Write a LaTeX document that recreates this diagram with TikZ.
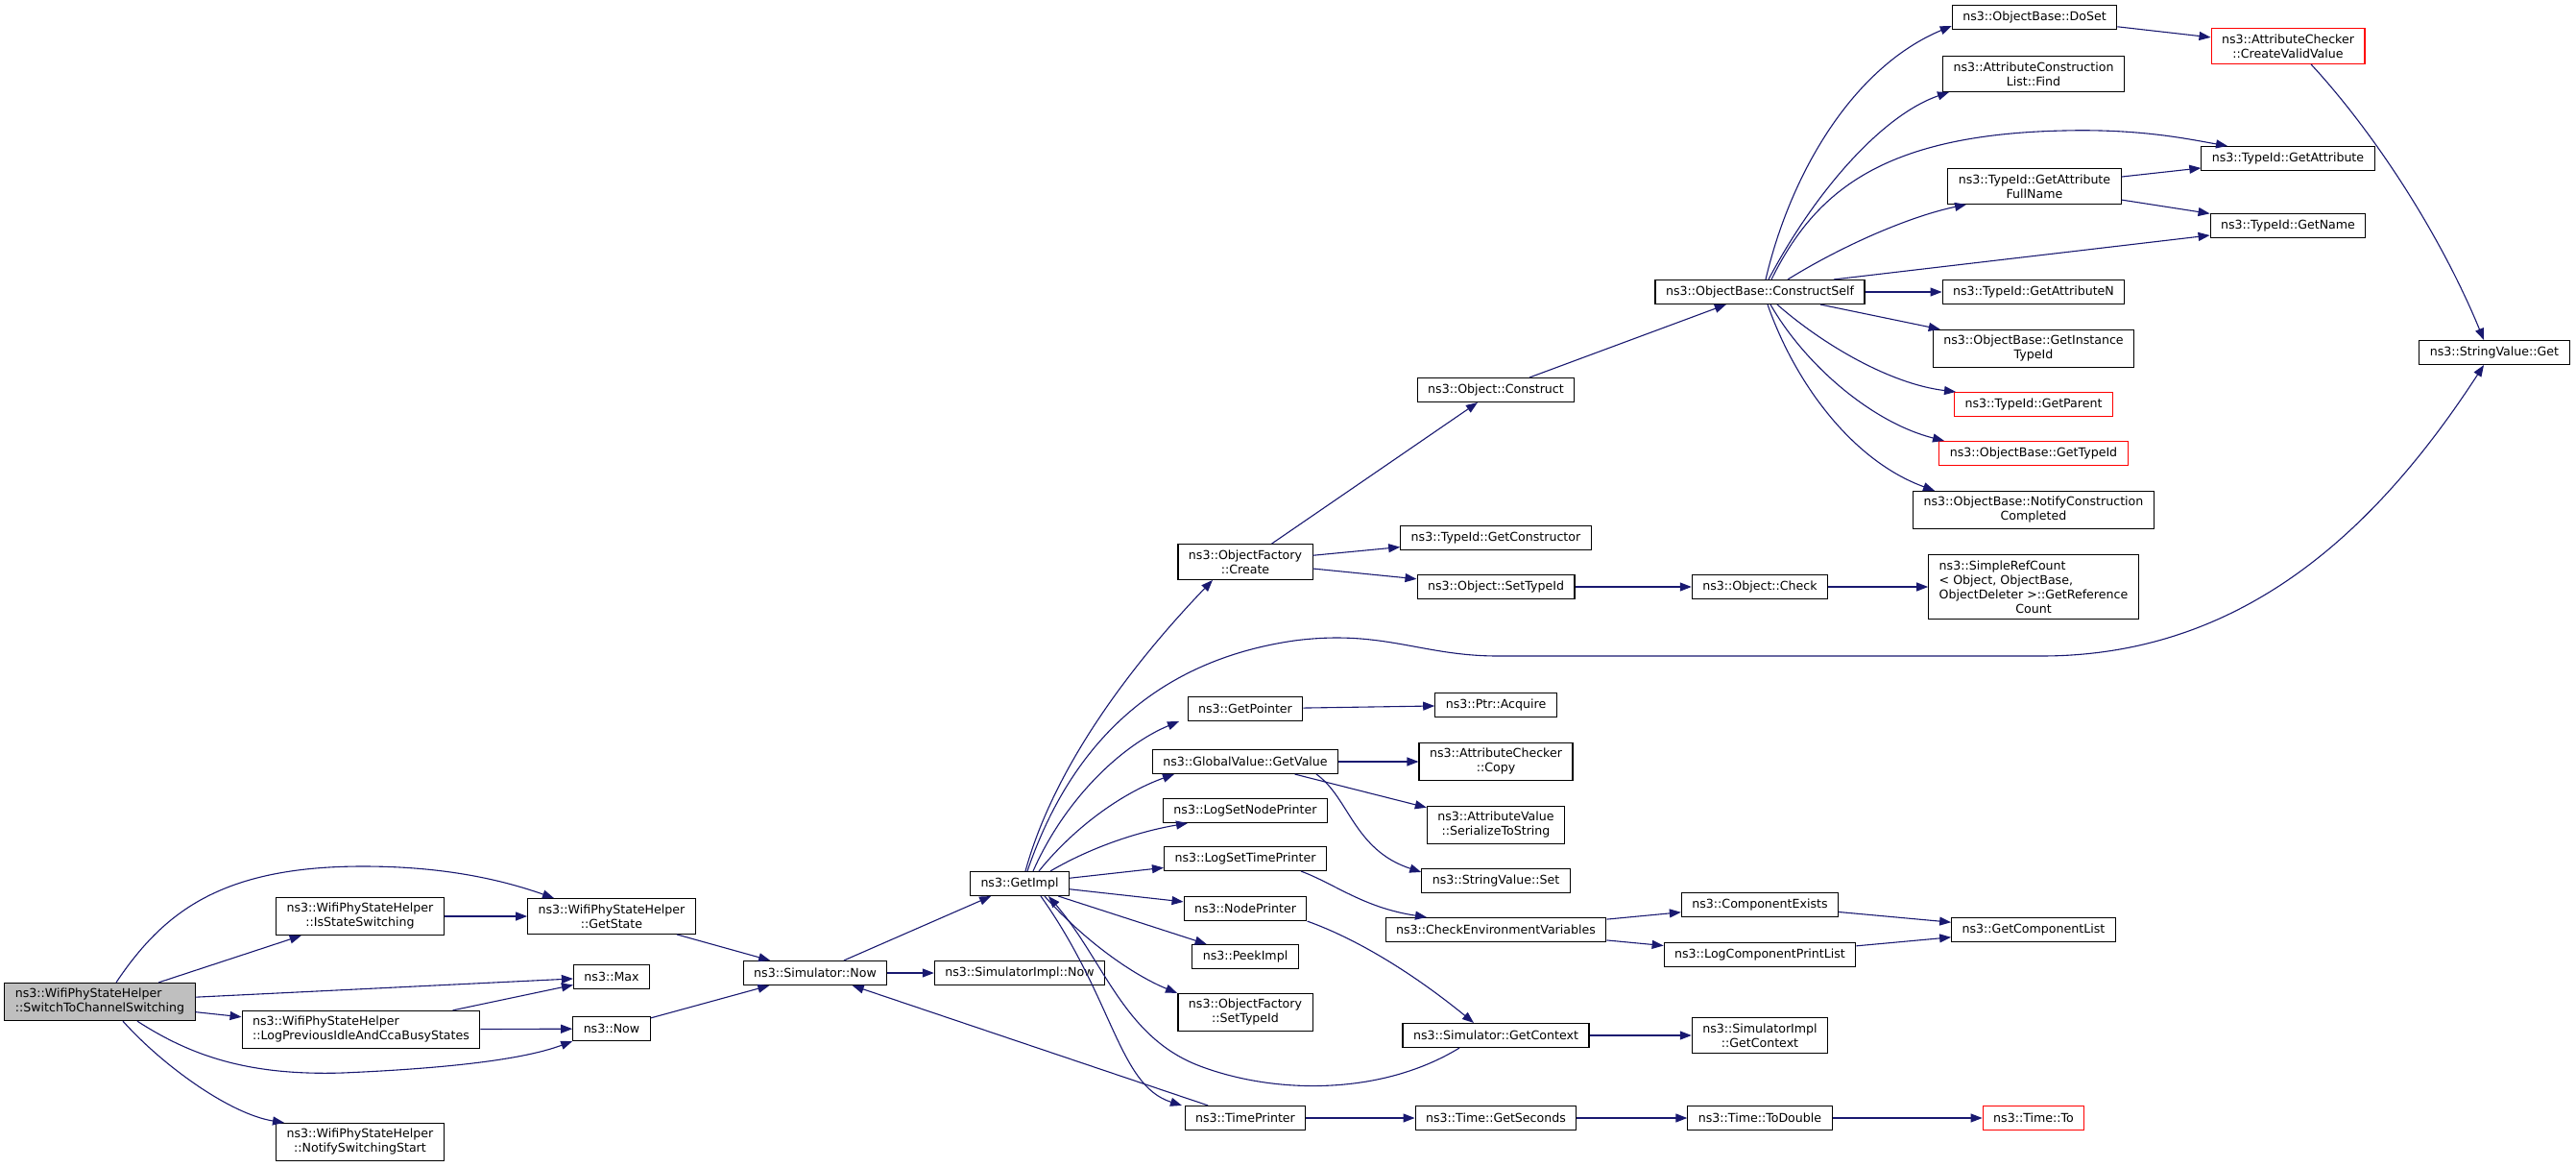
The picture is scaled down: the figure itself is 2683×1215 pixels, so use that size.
\documentclass[tikz,border=0pt]{standalone}
\usepackage{fontspec}
\setmainfont{DejaVu Sans}
\usetikzlibrary{arrows.meta}
\definecolor{callblue}{RGB}{25,25,112}
\definecolor{curgrey}{RGB}{191,191,191}
\newcommand{\firstln}[2]{\rlap{#1}\phantom{#2}}

\begin{document}
\begin{tikzpicture}[x=1pt,y=-1pt,
  fn/.style={draw=black,line width=1.1pt,fill=white,align=center,inner xsep=11pt,inner ysep=6pt,minimum height=25pt,font=\fontsize{12.6}{15}\selectfont},
  fncur/.style={fn,fill=curgrey},
  fnred/.style={fn,draw=red},
  call/.style={draw=callblue,line width=1.1pt,-{Triangle[length=12pt,width=9pt]}}]
\useasboundingbox (0,0) rectangle (2683,1215);

% 左侧: WifiPhyStateHelper
\node[fncur] (sw) at (104,1043) {\firstln{ns3::WifiPhyStateHelper}{::SwitchToChannelSwitching}\\::SwitchToChannelSwitching};
\node[fn] (iss) at (375,954) {ns3::WifiPhyStateHelper\\::IsStateSwitching};
\node[fn] (lp) at (376,1072) {\firstln{ns3::WifiPhyStateHelper}{::LogPreviousIdleAndCcaBusyStates}\\::LogPreviousIdleAndCcaBusyStates};
\node[fn] (ns) at (375,1189) {ns3::WifiPhyStateHelper\\::NotifySwitchingStart};
\node[fn] (gs) at (637,954) {ns3::WifiPhyStateHelper\\::GetState};
\node[fn] (mx) at (637,1017) {ns3::Max};
\node[fn] (now) at (637,1071) {ns3::Now};
\node[fn] (sn) at (849,1013) {ns3::Simulator::Now};
\node[fn] (sin) at (1062,1013) {ns3::SimulatorImpl::Now};
\node[fn] (gi) at (1062,920) {ns3::GetImpl};

% 中间: GetImpl 调用
\node[fn] (ofc) at (1297,585) {ns3::ObjectFactory\\::Create};
\node[fn] (gp) at (1297,738) {ns3::GetPointer};
\node[fn] (gv) at (1297,793) {ns3::GlobalValue::GetValue};
\node[fn] (lsn) at (1297,844) {ns3::LogSetNodePrinter};
\node[fn] (lst) at (1297,894) {ns3::LogSetTimePrinter};
\node[fn] (np) at (1297,946) {ns3::NodePrinter};
\node[fn] (pk) at (1297,996) {ns3::PeekImpl};
\node[fn] (ofst) at (1297,1054) {ns3::ObjectFactory\\::SetTypeId};
\node[fn] (tp) at (1297,1164) {ns3::TimePrinter};

\node[fn] (oc) at (1558,406) {ns3::Object::Construct};
\node[fn] (tgc) at (1558,560) {ns3::TypeId::GetConstructor};
\node[fn] (ost) at (1558,611) {ns3::Object::SetTypeId};
\node[fn] (pa) at (1558,734) {ns3::Ptr::Acquire};
\node[fn] (acc) at (1558,793) {ns3::AttributeChecker\\::Copy};
\node[fn] (avs) at (1558,859) {ns3::AttributeValue\\::SerializeToString};
\node[fn] (svs) at (1558,917) {ns3::StringValue::Set};
\node[fn] (cev) at (1558,968) {ns3::CheckEnvironmentVariables};
\node[fn] (gc) at (1558,1078) {ns3::Simulator::GetContext};
\node[fn] (tgs) at (1558,1164) {ns3::Time::GetSeconds};

\node[fn] (cs) at (1833,304) {ns3::ObjectBase::ConstructSelf};
\node[fn] (ock) at (1833,611) {ns3::Object::Check};
\node[fn] (ce) at (1833,942) {ns3::ComponentExists};
\node[fn] (lcp) at (1833,994) {ns3::LogComponentPrintList};
\node[fn] (sigc) at (1833,1078) {ns3::SimulatorImpl\\::GetContext};
\node[fn] (td) at (1833,1164) {ns3::Time::ToDouble};

% 右侧: ObjectBase 调用
\node[fn] (ds) at (2119,18) {ns3::ObjectBase::DoSet};
\node[fn] (fd) at (2118,77) {ns3::AttributeConstruction\\List::Find};
\node[fn] (fn) at (2119,194) {ns3::TypeId::GetAttribute\\FullName};
\node[fn] (gan) at (2118,304) {ns3::TypeId::GetAttributeN};
\node[fn] (git) at (2118,363) {ns3::ObjectBase::GetInstance\\TypeId};
\node[fnred] (gpa) at (2118,421) {ns3::TypeId::GetParent};
\node[fnred] (gt) at (2118,472) {ns3::ObjectBase::GetTypeId};
\node[fn] (ncc) at (2118,531) {ns3::ObjectBase::NotifyConstruction\\Completed};
\node[fn] (src) at (2118,611) {\firstln{ns3::SimpleRefCount}{ObjectDeleter >::GetReference}\\\firstln{< Object, ObjectBase,}{ObjectDeleter >::GetReference}\\ObjectDeleter >::GetReference\\Count};
\node[fn] (gcl) at (2118,968) {ns3::GetComponentList};
\node[fnred] (tto) at (2118,1164) {ns3::Time::To};

\node[fnred] (cvv) at (2383,48) {ns3::AttributeChecker\\::CreateValidValue};
\node[fn] (ga) at (2383,165) {ns3::TypeId::GetAttribute};
\node[fn] (gn) at (2383,235) {ns3::TypeId::GetName};
\node[fn] (sv) at (2598,367) {ns3::StringValue::Get};

% 左侧连线
\draw[call] (sw) -- (iss);
\draw[call] ([xshift=17pt]sw.north) .. controls (170,950) and (230,902) .. (378,902) .. controls (460,902) and (520,915) .. ([xshift=-60pt]gs.north);
\draw[call] (sw) -- (mx);
\draw[call] (sw) -- (lp);
\draw[call] ([xshift=39pt]sw.south) .. controls (200,1100) and (260,1120) .. (357,1117) .. controls (450,1113) and (540,1105) .. (now.south west);
\draw[call] ([xshift=24pt]sw.south) .. controls (170,1110) and (240,1160) .. ([xshift=-79pt]ns.north);
\draw[call] (iss) -- (gs);
\draw[call] (gs) -- (sn);
\draw[call] (lp) -- (mx);
\draw[call] (lp) -- (now);
\draw[call] (now) -- (sn);
\draw[call] (sn) -- (gi);
\draw[call] (sn) -- (sin);
\draw[call] (tp) -- (sn);

% GetImpl 连线
\draw[call] ([xshift=6pt]gi.north) .. controls (1100,790) and (1190,680) .. ([xshift=-34pt]ofc.south);
\draw[call] ([xshift=8pt]gi.north) .. controls (1110,790) and (1190,690) .. (1348,667) .. controls (1440,655) and (1480,683) .. (1560,683) -- (2126,683) .. controls (2330,683) and (2470,560) .. ([xshift=-11pt]sv.south);
\draw[call] ([xshift=14pt]gi.north) .. controls (1110,830) and (1170,775) .. ([xshift=-69pt]gp.south);
\draw[call] ([xshift=20pt]gi.north) .. controls (1120,860) and (1170,825) .. ([xshift=-74pt]gv.south);
\draw[call] ([xshift=32pt]gi.north) .. controls (1140,880) and (1190,865) .. ([xshift=-60pt]lsn.south);
\draw[call] (gi) -- (lst);
\draw[call] (gi) -- (np);
\draw[call] (gi) -- (pk);
\draw[call] ([xshift=26pt]gi.south) .. controls (1130,980) and (1180,1015) .. ([xshift=-71pt]ofst.north);
\draw[call] ([xshift=22pt]gi.south) .. controls (1160,1040) and (1165,1130) .. ([xshift=-66pt]tp.north);
\draw[call] ([xshift=-38pt]gc.south) .. controls (1440,1140) and (1330,1140) .. (1250,1110) .. controls (1170,1080) and (1150,1000) .. ([xshift=30pt]gi.south);

% 中间连线
\draw[call] (ofc) -- (oc);
\draw[call] (ofc) -- (tgc);
\draw[call] (ofc) -- (ost);
\draw[call] (gp) -- (pa);
\draw[call] (gv) -- (acc);
\draw[call] (gv) -- (avs);
\draw[call] ([xshift=74pt]gv.south) .. controls (1405,830) and (1410,885) .. ([yshift=-4pt]svs.north west);
\draw[call] ([xshift=58pt]lst.south) .. controls (1390,920) and (1420,945) .. ([xshift=-72pt]cev.north);
\draw[call] (np.south east) .. controls (1420,980) and (1480,1020) .. ([xshift=-23pt]gc.north);
\draw[call] (tp) -- (tgs);
\draw[call] (oc) -- (cs);
\draw[call] (ost) -- (ock);
\draw[call] (cev) -- (ce);
\draw[call] (cev) -- (lcp);
\draw[call] (gc) -- (sigc);
\draw[call] (tgs) -- (td);
\draw[call] (ock) -- (src);
\draw[call] (ce) -- (gcl);
\draw[call] (lcp) -- (gcl);
\draw[call] (td) -- (tto);

% ConstructSelf 连线
\draw[call] ([xshift=6pt]cs.north) .. controls (1865,180) and (1930,70) .. ([yshift=-9pt]ds.west);
\draw[call] ([xshift=9pt]cs.north) .. controls (1890,200) and (1960,120) .. ([xshift=-88pt]fd.south);
\draw[call] ([xshift=12pt]cs.north) .. controls (1890,200) and (1960,140) .. (2150,136) .. controls (2230,134) and (2280,145) .. ([xshift=-63pt]ga.north);
\draw[call] ([xshift=29pt]cs.north) .. controls (1920,255) and (1990,225) .. ([xshift=-71pt]fn.south);
\draw[call] ([xshift=77pt]cs.north) -- ([yshift=-10pt]gn.west);
\draw[call] (cs) -- (gan);
\draw[call] (cs) -- (git);
\draw[call] ([xshift=18pt]cs.south) .. controls (1900,360) and (1970,400) .. ([xshift=-81pt]gpa.north);
\draw[call] ([xshift=11pt]cs.south) .. controls (1880,380) and (1950,440) .. ([xshift=-93pt]gt.north);
\draw[call] ([xshift=8pt]cs.south) .. controls (1870,400) and (1930,480) .. ([xshift=-103pt]ncc.north);
\draw[call] (fn) -- (ga);
\draw[call] (fn) -- (gn);
\draw[call] (ds) -- (cvv);
\draw[call] ([xshift=24pt]cvv.south) .. controls (2470,135) and (2540,240) .. ([xshift=-11pt]sv.north);
\end{tikzpicture}
\end{document}
